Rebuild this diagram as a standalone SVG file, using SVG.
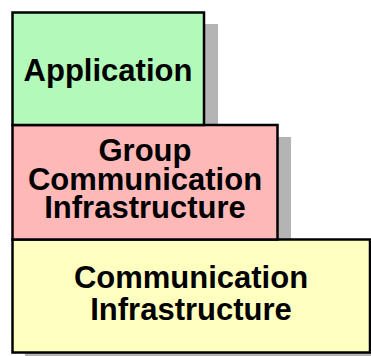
<svg xmlns="http://www.w3.org/2000/svg" width="371" height="356" viewBox="0 0 371 356">
<style>
.shadow{fill:#b4b4b4;stroke:none}
.box{stroke:#000;stroke-width:2.5}
.lbl{font-family:"Liberation Sans",Arial,sans-serif;font-weight:bold;font-size:31px;fill:#000;text-anchor:middle}
</style>
<rect width="371" height="356" fill="#fff"/>
<g id="shadows">
<rect class="shadow" x="25" y="252" width="358" height="114"/>
<rect class="shadow" x="25" y="137" width="266" height="114"/>
<rect class="shadow" x="25" y="24" width="193" height="112"/>
</g>
<g id="comm">
<rect class="box" x="12.5" y="239.5" width="357.5" height="113" fill="#ffffbf"/>
<text class="lbl" x="191" y="288">Communication</text>
<text class="lbl" x="191" y="320">Infrastructure</text>
</g>
<g id="group">
<rect class="box" x="12.5" y="125" width="265" height="114.5" fill="#ffb8b8"/>
<text class="lbl" x="145" y="161">Group</text>
<text class="lbl" x="145" y="190">Communication</text>
<text class="lbl" x="145" y="218">Infrastructure</text>
</g>
<g id="app">
<rect class="box" x="12.5" y="12.5" width="191.5" height="112.5" fill="#b3f9b9"/>
<text class="lbl" x="108" y="81">Application</text>
</g>
<g id="connectors"/>
</svg>
